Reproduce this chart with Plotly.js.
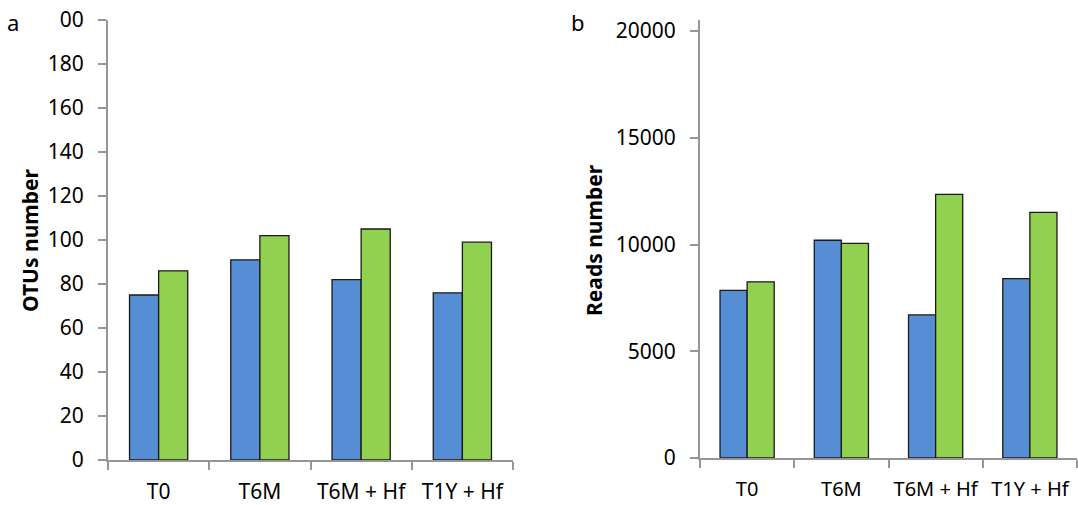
<!DOCTYPE html>
<html><head><meta charset="utf-8">
<script src="https://cdn.plot.ly/plotly-3.0.1.min.js"></script>
<style>html,body{margin:0;padding:0;background:#fff}#chart{width:1078px;height:505px}</style>
</head><body><div id="chart"></div>
<script>
const categories = ["T0", "T6M", "T6M + Hf", "T1Y + Hf"];
const otusBlue = [75, 91, 82, 76];
const otusGreen = [86, 102, 105, 99];
const readsBlue = [7850, 10200, 6700, 8400];
const readsGreen = [8250, 10050, 12350, 11500];
const otusTicks = [0, 20, 40, 60, 80, 100, 120, 140, 160, 180, 200];
const otusTickText = ["0", "20", "40", "60", "80", "100", "120", "140", "160", "180", "00"];
const readsTicks = [0, 5000, 10000, 15000, 20000];
const readsTickText = ["0", "5000", "10000", "15000", "20000"];

const blue = "#558ED5", green = "#92D050";
const outline = {color: "#1a1a1a", width: 1.3};
const FONT = "Noto Sans, DejaVu Sans, sans-serif";

const traces = [
  {type: "bar", x: categories, y: otusBlue, marker: {color: blue, line: outline}, xaxis: "x", yaxis: "y", hoverinfo: "none"},
  {type: "bar", x: categories, y: otusGreen, marker: {color: green, line: outline}, xaxis: "x", yaxis: "y", hoverinfo: "none"},
  {type: "bar", x: categories, y: readsBlue, marker: {color: blue, line: outline}, xaxis: "x2", yaxis: "y2", hoverinfo: "none"},
  {type: "bar", x: categories, y: readsGreen, marker: {color: green, line: outline}, xaxis: "x2", yaxis: "y2", hoverinfo: "none"}
];

const axisLine = {showline: true, linecolor: "#969696", linewidth: 2, ticks: "outside", tickcolor: "#969696", tickwidth: 2, ticklen: 8, showgrid: false, zeroline: false, tickfont: {family: FONT, size: 21, color: "#000"}};
const xExtra = {tickson: "boundaries", type: "category", ticklabelstandoff: 12, tickangle: 0};
const yExtra = {ticklabelstandoff: 10};

const layout = {
  width: 1078, height: 505,
  margin: {l: 0, r: 0, t: 0, b: 0},
  paper_bgcolor: "#fff", plot_bgcolor: "#fff",
  showlegend: false,
  barmode: "group", bargap: 0.425, bargroupgap: 0,
  font: {family: FONT, color: "#000"},
  xaxis: Object.assign({}, axisLine, xExtra, {domain: [108/1078, 513/1078], anchor: "y"}),
  yaxis: Object.assign({}, axisLine, yExtra, {domain: [45/505, 485/505], anchor: "x", range: [0, 200], tickvals: otusTicks, ticktext: otusTickText}),
  xaxis2: Object.assign({}, axisLine, xExtra, {domain: [700/1078, 1077/1078], anchor: "y2", tickfont: {family: FONT, size: 20, color: "#000"}}),
  yaxis2: Object.assign({}, axisLine, yExtra, {domain: [47/505, 485/505], anchor: "x2", range: [0, 20515], tickvals: readsTicks, ticktext: readsTickText}),
  annotations: [
    {text: "a", x: 13/1078, y: 1 - 22/505, xref: "paper", yref: "paper", showarrow: false, xanchor: "center", yanchor: "middle", font: {family: FONT, size: 22}},
    {text: "b", x: 578/1078, y: 1 - 22/505, xref: "paper", yref: "paper", showarrow: false, xanchor: "center", yanchor: "middle", font: {family: FONT, size: 22}},
    {text: "<b>OTUs number</b>", x: 30/1078, y: 1 - 240/505, xref: "paper", yref: "paper", showarrow: false, textangle: -90, xanchor: "center", yanchor: "middle", font: {family: FONT, size: 21}},
    {text: "<b>Reads number</b>", x: 594/1078, y: 1 - 240/505, xref: "paper", yref: "paper", showarrow: false, textangle: -90, xanchor: "center", yanchor: "middle", font: {family: FONT, size: 21}}
  ]
};

Plotly.newPlot("chart", traces, layout, {staticPlot: true, displayModeBar: false});
</script>
</body></html>
